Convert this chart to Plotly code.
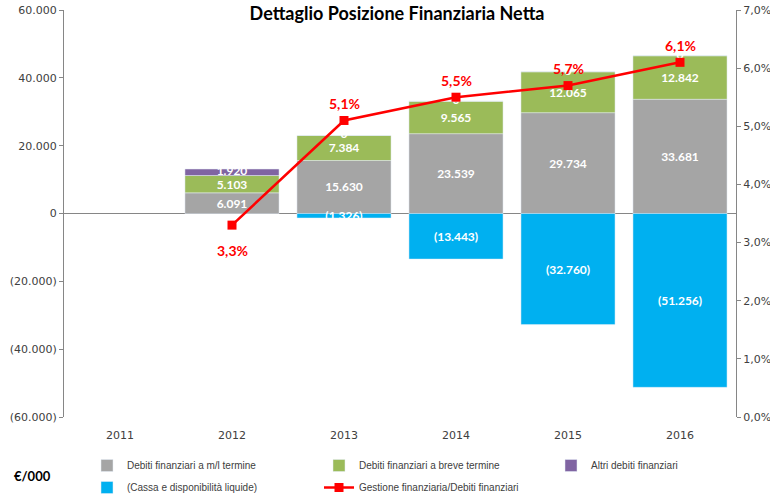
import plotly.graph_objects as go

years = ["2011", "2012", "2013", "2014", "2015", "2016"]
debiti_ml = [None, 6091, 15630, 23539, 29734, 33681]
debiti_breve = [None, 5103, 7384, 9565, 12065, 12842]
altri_debiti = [None, 1920, 0, 0, 0, 0]
cassa = [None, None, -1326, -13443, -32760, -51256]
gestione_pct = [None, 0.033, 0.051, 0.055, 0.057, 0.061]

left_tickvals = [-60000, -40000, -20000, 0, 20000, 40000, 60000]
left_ticktext = ["(60.000)", "(40.000)", "(20.000)", "0", "20.000", "40.000", "60.000"]
right_tickvals = [0, 0.01, 0.02, 0.03, 0.04, 0.05, 0.06, 0.07]


def fmt(v):
    if v is None:
        return ""
    s = "{:,.0f}".format(abs(v)).replace(",", ".")
    return "(" + s + ")" if v < 0 else s


def fmt_pct(v):
    if v is None:
        return ""
    return "{:.1f}%".format(v * 100).replace(".", ",")


C_GRAY = "#A5A5A5"
C_GREEN = "#9BBB59"
C_PURPLE = "#8064A2"
C_CYAN = "#00B0F0"
C_RED = "#FF0000"
AX = "#868686"
TXT = "#404040"

W, H = 770, 498
ML, MR, MT, MB = 64, 34, 10, 81
PW, PH = W - ML - MR, H - MT - MB

label_font = dict(family="Lato, Open Sans, sans-serif", size=12, color="white", weight="bold")
legend_font = dict(family="Liberation Sans Narrow, Arial Narrow, Liberation Sans, sans-serif", size=10, color=TXT)
pct_font = dict(family="Lato, Open Sans, sans-serif", size=14, color=C_RED, weight="bold")

fig = go.Figure()

fig.add_trace(go.Bar(x=years, y=debiti_ml, name="Debiti finanziari a m/l termine",
                     marker_color=C_GRAY, text=[fmt(v) for v in debiti_ml],
                     textposition="inside", insidetextanchor="middle", constraintext="none",
                     textfont=label_font, legend="legend", hoverinfo="skip"))
fig.add_trace(go.Bar(x=years, y=debiti_breve, name="Debiti finanziari a breve termine",
                     marker_color=C_GREEN, text=[fmt(v) for v in debiti_breve],
                     textposition="inside", insidetextanchor="middle", constraintext="none",
                     textfont=label_font, legend="legend", hoverinfo="skip"))
fig.add_trace(go.Bar(x=years, y=altri_debiti, name="Altri debiti finanziari",
                     marker_color=C_PURPLE, legend="legend", legendwidth=100, hoverinfo="skip"))
fig.add_trace(go.Bar(x=years, y=cassa, name="(Cassa e disponibilità liquide)",
                     marker_color=C_CYAN, text=[fmt(v) for v in cassa],
                     textposition="inside", insidetextanchor="middle", constraintext="none",
                     textfont=label_font, legend="legend2", hoverinfo="skip"))

# labels for "Altri debiti finanziari" placed at the middle of their segment
purple_y = []
for a, b, c in zip(debiti_ml, debiti_breve, altri_debiti):
    purple_y.append(None if c is None else a + b + c / 2)
fig.add_trace(go.Scatter(x=years, y=purple_y, mode="text", text=[fmt(v) for v in altri_debiti],
                         textposition="middle center", textfont=label_font,
                         showlegend=False, hoverinfo="skip"))

fig.add_trace(go.Scatter(x=years, y=gestione_pct, yaxis="y2", name="Gestione finanziaria/Debiti finanziari",
                         mode="lines+markers", line=dict(color=C_RED, width=2.5),
                         marker=dict(symbol="square", size=9, color=C_RED),
                         legend="legend2", legendwidth=200, hoverinfo="skip"))

# percentage labels (below the first point, above the others); x is the category index
annotations = []
first = True
for i, v in enumerate(gestione_pct):
    if v is None:
        continue
    annotations.append(dict(x=i, y=v, xref="x", yref="y2", text=fmt_pct(v), showarrow=False,
                            yshift=-25 if first else 17, font=pct_font))
    first = False

annotations.append(dict(text="<b>€/000</b>", x=(12 - ML) / PW, xref="paper", xanchor="left",
                        y=-(476 - (MT + PH)) / PH, yref="paper", yanchor="middle", showarrow=False,
                        font=dict(family="Lato, Open Sans, sans-serif", size=13, color="black")))

fig.update_layout(
    width=W, height=H,
    margin=dict(l=ML, r=MR, t=MT, b=MB, autoexpand=False),
    paper_bgcolor="white", plot_bgcolor="white",
    barmode="relative", bargap=0.16,
    separators=",.",
    title=dict(text="<b>Dettaglio Posizione Finanziaria Netta</b>", x=397 / W, xref="container",
               y=1 - 14 / H, yref="container", xanchor="center", yanchor="middle",
               font=dict(family="Lato, Open Sans, sans-serif", size=18, color="black")),
    xaxis=dict(type="category", categoryarray=years, categoryorder="array", range=[-0.5, 5.5],
               showline=False, ticks="", showgrid=False, zeroline=False,
               tickfont=dict(family="DejaVu Sans", size=11, color=TXT), ticklabelstandoff=10),
    xaxis2=dict(overlaying="x", anchor="free", position=0.5, range=[-0.5, 5.5],
                tickvals=[0.5, 1.5, 2.5, 3.5, 4.5], ticks="outside", ticklen=4, tickcolor=AX,
                showticklabels=False, showline=False, showgrid=False, zeroline=False),
    yaxis=dict(range=[-60000, 60000], tickvals=left_tickvals, ticktext=left_ticktext,
               showline=True, linecolor=AX, ticks="outside", ticklen=4, tickcolor=AX,
               showgrid=False, zeroline=True, zerolinecolor=AX, zerolinewidth=1,
               tickfont=dict(family="DejaVu Sans", size=11, color=TXT)),
    yaxis2=dict(overlaying="y", side="right", range=[0, 0.07], tickvals=right_tickvals,
                tickformat=".1%", showline=True, linecolor=AX, ticks="outside", ticklen=4,
                tickcolor=AX, showgrid=False, zeroline=False,
                tickfont=dict(family="DejaVu Sans", size=11, color=TXT)),
    legend=dict(orientation="h", x=87 / W, xref="container", xanchor="left",
                y=1 - 451 / H, yref="container", yanchor="top",
                entrywidth=187, entrywidthmode="pixels", font=legend_font,
                traceorder="normal", bgcolor="rgba(0,0,0,0)"),
    legend2=dict(orientation="h", x=87 / W, xref="container", xanchor="left",
                 y=1 - 473 / H, yref="container", yanchor="top",
                 entrywidth=187, entrywidthmode="pixels", font=legend_font,
                 traceorder="normal", bgcolor="rgba(0,0,0,0)"),
    annotations=annotations,
)

fig.write_html("out.html", config={"displayModeBar": False},
               post_script="document.body.style.margin='0px';")
